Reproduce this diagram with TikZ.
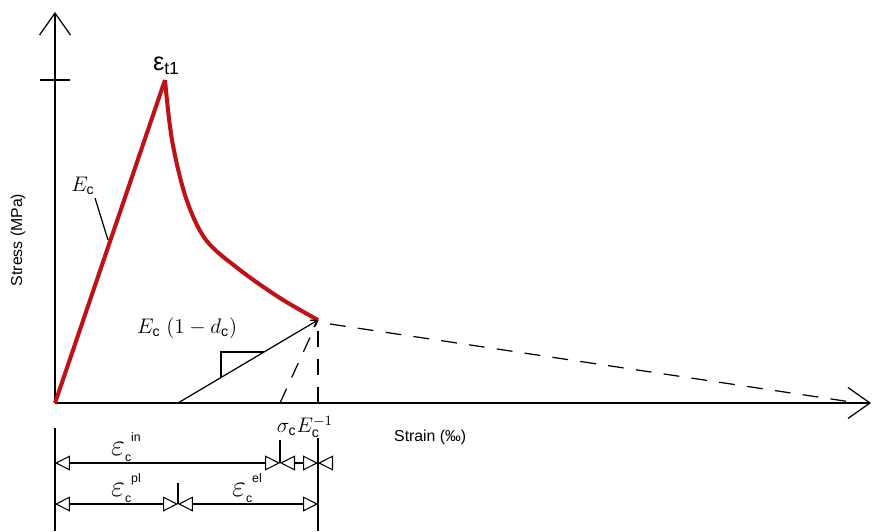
\documentclass[tikz,border=0pt]{standalone}
\usepackage{fontspec}
\setmainfont{Liberation Sans}
\usetikzlibrary{arrows.meta, calc}

\definecolor{curvered}{RGB}{190,18,22}
\newcommand{\strainlbl}[1]{{\LARGE$\varepsilon$}\raisebox{-0.5ex}{\scriptsize c}\raisebox{1.3ex}{\scriptsize #1}}

\begin{document}
\begin{tikzpicture}[
    x=0.02cm, y=-0.02cm,
    every node/.style={font=\small},
    axis/.style={line width=0.8pt, -{Straight Barb[length=0.44cm, width=0.62cm, line width=0.7pt]}},
    curve/.style={line width=2.3pt, curvered, line join=round},
    unload/.style={line width=0.7pt},
    helper/.style={line width=0.7pt, dash pattern=on 9pt off 7pt},
    dim/.style={line width=0.6pt, {Triangle[open, length=0.3cm, width=0.3cm, line width=0.6pt]}-{Triangle[open, length=0.3cm, width=0.3cm, line width=0.6pt]}},
    dimend/.style={line width=0.6pt, -{Triangle[open, length=0.3cm, width=0.3cm, line width=0.6pt]}},
    extline/.style={line width=0.6pt},
    symb/.style={font=\large, inner sep=0.5pt}
]
\useasboundingbox (0,0) rectangle (872,531);

% points of the curve
\coordinate (O) at (55,403);
\coordinate (ytip) at (55,12);
\coordinate (xtip) at (871,403);
\coordinate (peak) at (165,80);
\coordinate (soft) at (318,320);
\coordinate (pl) at (178,403);
\coordinate (sec) at (280,403);
\coordinate (foot) at (318,403);
\coordinate (tail) at (858,403);

% axes
\draw[axis] (O) -- (ytip);
\draw[axis] (O) -- (xtip);
\draw[line width=0.8pt] (40,80) -- (70,80);

\node[rotate=90] (stress) at (18,240) {Stress (MPa)};
\node[anchor=west] (strain) at (388,437) {Strain (‰)};

% stress-strain curve
\draw[curve] (O) -- (peak);
\draw[curve] plot[smooth, tension=0.55] coordinates {(peak) (172,140) (186,198) (206,240) (240,270) (280,298) (soft)};
\node[font=\Large, inner sep=1pt] (eps) at (166,66) {ε\raisebox{-0.3ex}{\normalsize t1}};

% initial modulus
\node[symb] (Ec) at (83,186) {$E_{\mathrm{c}}$};
\draw[unload] (95,198) -- (108,240);

% unloading and dashed lines
\draw[unload, -{Straight Barb[length=1.2mm, width=1.6mm]}] (pl) -- (soft);
\draw[unload] (221,378) -- (221,352) -- (264,352);
\node[symb, anchor=west] (Ed) at (136,328) {$E_{\mathrm{c}}\ (1-d_{\mathrm{c}})$};
\draw[helper] (sec) -- (soft);
\draw[helper] (foot) -- (soft);
\draw[helper] (soft) ++(12,4) -- (tail);

% dimension lines
\draw[extline] (55,428) -- (55,531);
\draw[extline] (318,438) -- (318,531);
\draw[extline] (280,440) -- (280,463);
\draw[extline] (178,483) -- (178,504);

\draw[dim] (55,463) -- (280,463);
\draw[dim] (280,463) -- (318,463);
\draw[dimend] (332,463) -- (318,463);
\draw[dim] (55,504) -- (178,504);
\draw[dim] (178,504) -- (318,504);

\node[symb] (ein) at (126,447) {\strainlbl{in}};
\node[symb] (epl) at (126,488) {\strainlbl{pl}};
\node[symb] (eel) at (247,488) {\strainlbl{el}};
\node[symb] (sig) at (305,427) {$\sigma_{\mathrm{c}}E_{\mathrm{c}}^{-1}$};
\end{tikzpicture}
\end{document}
